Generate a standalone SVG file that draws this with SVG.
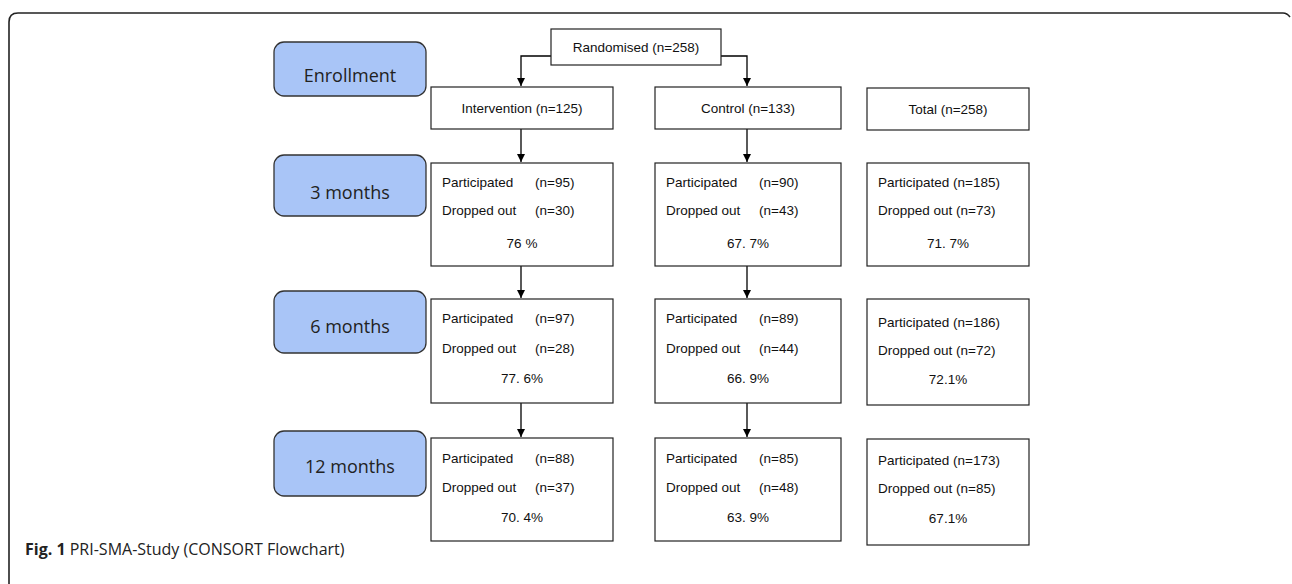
<svg xmlns="http://www.w3.org/2000/svg" width="1292" height="584" viewBox="0 0 1292 584">
<defs>
<marker id="arr" markerWidth="10" markerHeight="10" refX="9" refY="5" orient="auto" markerUnits="userSpaceOnUse">
<path d="M1,1 L9,5 L1,9 Z" fill="#000"/>
</marker>
<style>
.box{fill:#fff;stroke:#222;stroke-width:1.2}
.stage{fill:#a9c5f7;stroke:#333;stroke-width:1.3}
.t{font-family:"Liberation Sans",Arial,sans-serif;font-size:13.5px;fill:#111}
.c{text-anchor:middle}
.s{font-family:"Open Sans",sans-serif;font-size:18px;fill:#222;text-anchor:middle}
.ln{fill:none;stroke:#000;stroke-width:1.3}
.frame{fill:none;stroke:#222;stroke-width:1.6}
.cap{font-family:"Open Sans",sans-serif;font-size:16px;fill:#222}
</style>
</defs>
<rect width="1292" height="584" fill="#fff"/>
<path class="frame" d="M9,584 L9,22 Q9,13 18,13 L1283,13 Q1287,13 1290,17"/>

<g id="stages">
<g id="enrollment"><rect class="stage" x="274" y="42" width="152" height="54" rx="10"/><text class="s" x="350" y="82">Enrollment</text></g>
<g id="m3"><rect class="stage" x="274" y="155" width="152" height="61" rx="10"/><text class="s" x="350" y="199">3 months</text></g>
<g id="m6"><rect class="stage" x="274" y="291" width="152" height="62" rx="10"/><text class="s" x="350" y="333">6 months</text></g>
<g id="m12"><rect class="stage" x="274" y="431" width="152" height="65" rx="10"/><text class="s" x="350" y="473">12 months</text></g>
</g>

<g id="connectors">
<path class="ln" d="M551,56 L521,56 L521,86" marker-end="url(#arr)"/>
<path class="ln" d="M721,56 L747,56 L747,86" marker-end="url(#arr)"/>
<path class="ln" d="M521,129 L521,162" marker-end="url(#arr)"/>
<path class="ln" d="M747,129 L747,162" marker-end="url(#arr)"/>
<path class="ln" d="M521,266 L521,298" marker-end="url(#arr)"/>
<path class="ln" d="M747,266 L747,298" marker-end="url(#arr)"/>
<path class="ln" d="M521,403 L521,437" marker-end="url(#arr)"/>
<path class="ln" d="M747,403 L747,437" marker-end="url(#arr)"/>
</g>

<g id="randomised"><rect class="box" x="551" y="29" width="170" height="36"/><text class="t c" x="636" y="52">Randomised (n=258)</text></g>
<g id="intervention"><rect class="box" x="431" y="87" width="182" height="42"/><text class="t c" x="522" y="113">Intervention (n=125)</text></g>
<g id="control"><rect class="box" x="655" y="87" width="186" height="42"/><text class="t c" x="748" y="113">Control (n=133)</text></g>
<g id="total"><rect class="box" x="867" y="88" width="162" height="42"/><text class="t c" x="948" y="114">Total (n=258)</text></g>

<g id="int3"><rect class="box" x="431" y="163" width="182" height="103"/>
<text class="t" y="187"><tspan x="442">Participated</tspan><tspan x="535">(n=95)</tspan></text>
<text class="t" y="215"><tspan x="442">Dropped out</tspan><tspan x="535">(n=30)</tspan></text>
<text class="t c" x="522" y="248">76 %</text></g>
<g id="ctl3"><rect class="box" x="655" y="163" width="186" height="103"/>
<text class="t" y="187"><tspan x="666">Participated</tspan><tspan x="759">(n=90)</tspan></text>
<text class="t" y="215"><tspan x="666">Dropped out</tspan><tspan x="759">(n=43)</tspan></text>
<text class="t c" x="748" y="248">67. 7%</text></g>
<g id="tot3"><rect class="box" x="867" y="163" width="162" height="103"/>
<text class="t" x="878" y="187">Participated (n=185)</text>
<text class="t" x="878" y="215">Dropped out (n=73)</text>
<text class="t c" x="948" y="248">71. 7%</text></g>

<g id="int6"><rect class="box" x="431" y="299" width="182" height="104"/>
<text class="t" y="323"><tspan x="442">Participated</tspan><tspan x="535">(n=97)</tspan></text>
<text class="t" y="353"><tspan x="442">Dropped out</tspan><tspan x="535">(n=28)</tspan></text>
<text class="t c" x="522" y="383">77. 6%</text></g>
<g id="ctl6"><rect class="box" x="655" y="299" width="186" height="104"/>
<text class="t" y="323"><tspan x="666">Participated</tspan><tspan x="759">(n=89)</tspan></text>
<text class="t" y="353"><tspan x="666">Dropped out</tspan><tspan x="759">(n=44)</tspan></text>
<text class="t c" x="748" y="383">66. 9%</text></g>
<g id="tot6"><rect class="box" x="867" y="299" width="162" height="106"/>
<text class="t" x="878" y="327">Participated (n=186)</text>
<text class="t" x="878" y="355">Dropped out (n=72)</text>
<text class="t c" x="948" y="384">72.1%</text></g>

<g id="int12"><rect class="box" x="431" y="438" width="182" height="103"/>
<text class="t" y="463"><tspan x="442">Participated</tspan><tspan x="535">(n=88)</tspan></text>
<text class="t" y="492"><tspan x="442">Dropped out</tspan><tspan x="535">(n=37)</tspan></text>
<text class="t c" x="522" y="522">70. 4%</text></g>
<g id="ctl12"><rect class="box" x="655" y="438" width="186" height="103"/>
<text class="t" y="463"><tspan x="666">Participated</tspan><tspan x="759">(n=85)</tspan></text>
<text class="t" y="492"><tspan x="666">Dropped out</tspan><tspan x="759">(n=48)</tspan></text>
<text class="t c" x="748" y="522">63. 9%</text></g>
<g id="tot12"><rect class="box" x="867" y="439" width="162" height="106"/>
<text class="t" x="878" y="465">Participated (n=173)</text>
<text class="t" x="878" y="493">Dropped out (n=85)</text>
<text class="t c" x="948" y="523">67.1%</text></g>

<text class="cap" x="25" y="555"><tspan font-weight="bold">Fig. 1</tspan> PRI-SMA-Study (CONSORT Flowchart)</text>
</svg>
